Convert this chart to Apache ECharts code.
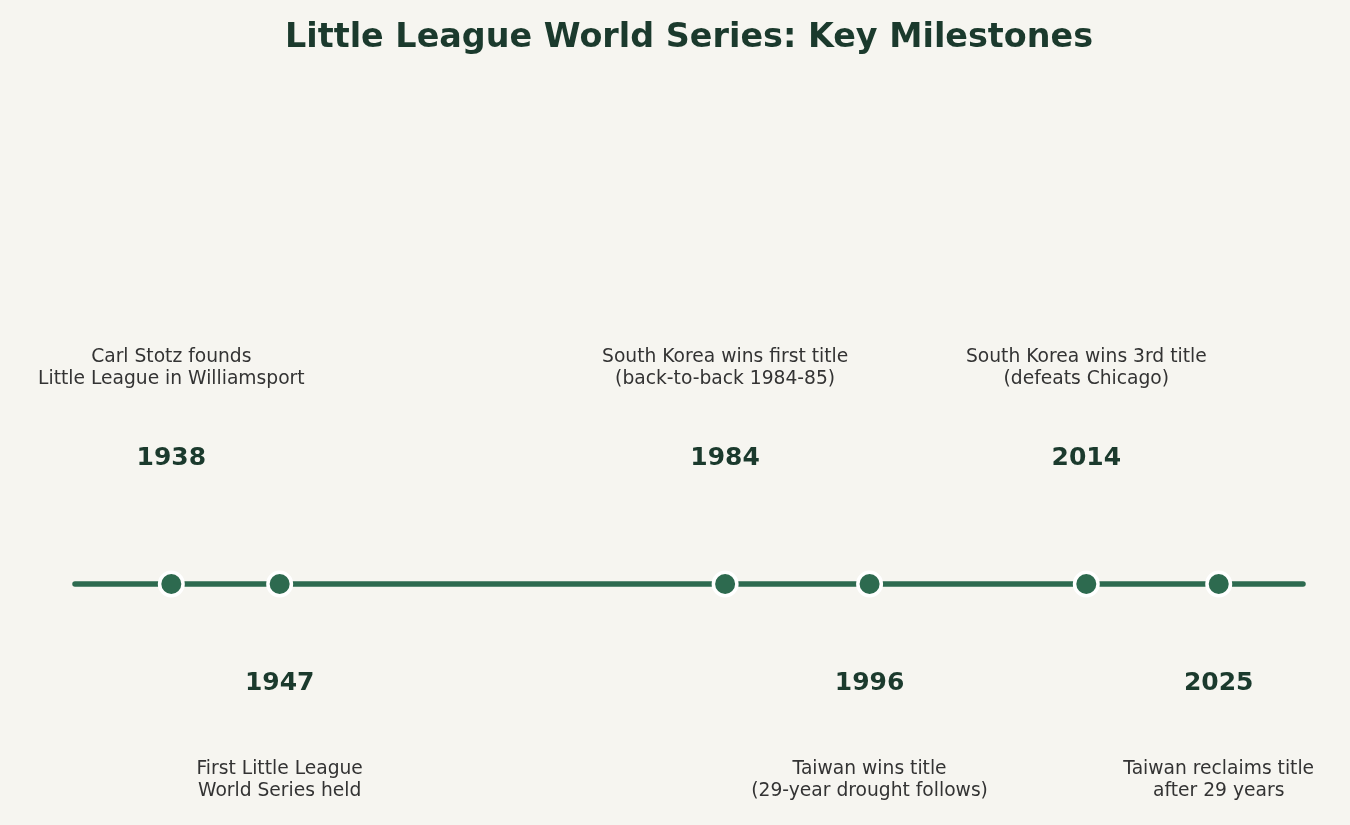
<!DOCTYPE html>
<html lang="en">
<head>
    <meta charset="UTF-8">
    <title>Little League World Series: Key Milestones</title>
    <script src="https://cdn.jsdelivr.net/npm/echarts@6/dist/echarts.min.js"></script>
    <style>
        html, body {
            margin: 0;
            padding: 0;
            background: #f6f5f0;
        }

        #main {
            width: 1350px;
            height: 825px;
        }
    </style>
</head>
<body>
<div id="main"></div>
<script>
    var years = [1938, 1947, 1984, 1996, 2014, 2025];
    var descriptions = [
        'Carl Stotz founds\nLittle League in Williamsport',
        'First Little League\nWorld Series held',
        'South Korea wins first title\n(back-to-back 1984-85)',
        'Taiwan wins title\n(29-year drought follows)',
        'South Korea wins 3rd title\n(defeats Chicago)',
        'Taiwan reclaims title\nafter 29 years'
    ];
    // 1 = label above the line, -1 = below
    var sides = [1, -1, 1, -1, 1, -1];

    var green = '#2d6a4f', dark = '#1b3a2d';

    var markerData = [], yearData = [], descData = [];
    for (var i = 0; i < years.length; ++i) {
        markerData.push([years[i], 0]);
        yearData.push({value: [years[i], sides[i] > 0 ? 126 : -99], name: String(years[i])});
        descData.push({value: [years[i], sides[i] > 0 ? 216 : -196], name: descriptions[i]});
    }

    var chart = echarts.init(document.getElementById('main'));
    chart.setOption({
        backgroundColor: '#f6f5f0',
        animation: false,
        title: {
            text: 'Little League World Series: Key Milestones',
            left: 280,
            top: 17,
            textStyle: {
                fontFamily: 'DejaVu Sans',
                fontSize: 33.4,
                fontWeight: 'bold',
                color: dark
            }
        },
        grid: {left: 75, right: 47, top: 84, bottom: 1},
        xAxis: {
            type: 'value',
            min: 1930,
            max: 2032,
            axisLine: {show: true, onZero: true, lineStyle: {color: green, width: 5.5}},
            axisTick: {show: false},
            axisLabel: {show: false},
            splitLine: {show: false}
        },
        yAxis: {
            type: 'value',
            min: -240,
            max: 500,
            show: false,
            splitLine: {show: false}
        },
        series: [
            {
                type: 'scatter',
                data: markerData,
                symbolSize: 23.5,
                itemStyle: {color: green, borderColor: '#ffffff', borderWidth: 3.5, opacity: 1},
                z: 5
            },
            {
                type: 'scatter',
                data: yearData,
                symbolSize: 0,
                itemStyle: {opacity: 1},
                label: {
                    show: true,
                    position: 'inside',
                    formatter: '{b}',
                    fontFamily: 'DejaVu Sans',
                    fontSize: 25,
                    fontWeight: 'bold',
                    color: dark,
                    opacity: 1
                }
            },
            {
                type: 'scatter',
                data: descData,
                symbolSize: 0,
                itemStyle: {opacity: 1},
                label: {
                    show: true,
                    position: 'inside',
                    formatter: '{b}',
                    align: 'center',
                    fontFamily: 'DejaVu Sans',
                    fontSize: 18.7,
                    lineHeight: 22,
                    color: '#333333',
                    opacity: 1
                }
            }
        ]
    });
</script>
</body>
</html>
